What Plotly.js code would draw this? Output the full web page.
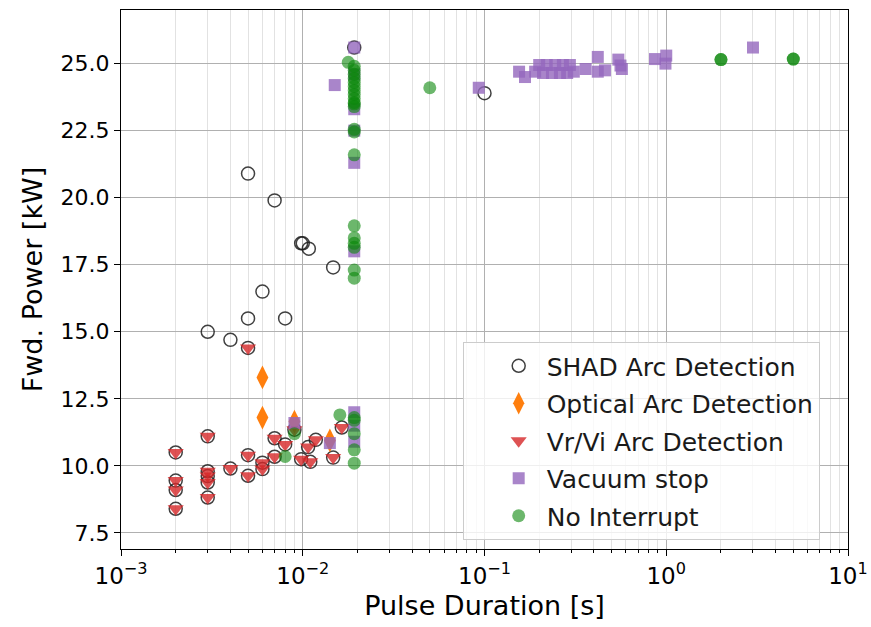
<!DOCTYPE html>
<html><head><meta charset="utf-8">
<script src="https://cdn.plot.ly/plotly-3.0.1.min.js"></script>
<style>html,body{margin:0;padding:0;background:#fff}#chart{width:871px;height:627px}</style>
</head><body><div id="chart"></div>
<script>
// SHAD Arc Detection (open circles)
const shadX = [0.005,0.007,0.0098,0.01,0.0108,0.0147,0.006,0.005,0.008,0.003,0.004,0.1,0.0192,
  0.002,0.002,0.002,0.002,0.003,0.003,0.003,0.003,0.003,0.004,0.005,0.005,0.005,0.006,0.006,
  0.007,0.007,0.008,0.009,0.0098,0.0107,0.011,0.0118,0.0147,0.0164];
const shadY = [20.9,19.9,18.3,18.3,18.1,17.4,16.5,15.5,15.5,15.0,14.7,23.9,25.6,
  10.5,9.45,9.1,8.4,11.1,9.8,9.62,9.38,8.82,9.9,14.4,10.4,9.63,10.12,9.88,
  11.03,10.34,10.8,11.35,10.25,10.7,10.15,10.97,10.31,11.43];

// Optical Arc Detection (diamonds)
const optX = [0.006,0.006,0.009,0.0141];
const optY = [13.3,11.8,11.65,10.95];

// Vr/Vi Arc Detection (triangles)
const vrviX = [0.002,0.002,0.002,0.002,0.003,0.003,0.003,0.003,0.003,0.004,0.005,0.005,0.005,0.006,0.006,
  0.007,0.007,0.008,0.009,0.0098,0.0107,0.011,0.0118,0.0147,0.0164];
const vrviY = [10.5,9.45,9.1,8.4,11.1,9.8,9.62,9.38,8.82,9.9,14.4,10.4,9.63,10.12,9.88,
  11.03,10.34,10.8,11.35,10.25,10.7,10.15,10.97,10.31,11.43];

// Vacuum stop (squares)
const vacX = [0.009,0.0141,0.015,0.0192,0.0192,0.0192,0.0192,0.0192,0.0192,0.0192,0.0192,0.0192,0.093,
  0.155,0.167,0.19,0.2,0.21,0.22,0.235,0.245,0.26,0.27,0.285,0.295,0.31,0.36,0.42,0.42,0.46,0.545,0.56,0.57,
  0.867,1.0,0.99,3.0];
const vacY = [11.6,10.85,24.2,25.6,24.6,23.3,22.5,21.3,18.0,12.0,11.5,10.9,24.1,
  24.7,24.5,24.7,24.95,24.65,24.95,24.65,24.95,24.65,24.95,24.65,24.95,24.7,24.8,25.25,24.7,24.75,25.15,24.93,24.8,
  25.17,25.3,25.0,25.6];

// No Interrupt (filled circles)
const noX = [0.0178,0.0192,0.0192,0.0192,0.0192,0.0192,0.0192,0.0192,0.0192,0.0192,0.0192,0.0192,0.0192,
  0.0192,0.0192,0.0192,0.0192,0.0192,0.0192,0.0192,0.0192,0.0192,
  0.016,0.0192,0.0192,0.0192,0.0192,0.0192,0.009,0.008,0.05,2.0,2.0,5.0,5.0];
const noY = [25.05,24.9,24.75,24.6,24.45,24.3,24.15,24.0,23.85,23.7,23.55,23.4,23.5,
  22.55,22.45,21.6,18.95,18.5,18.3,18.15,17.3,17.0,
  11.9,11.8,11.7,11.2,10.6,10.1,11.2,10.35,24.1,25.15,25.15,25.17,25.17];

const xTickVals = [0.001,0.01,0.1,1,10];
const xTickText = ['10<sup>−3</sup>','10<sup>−2</sup>','10<sup>−1</sup>','10<sup>0</sup>','10<sup>1</sup>'];
const yTickVals = [7.5,10.0,12.5,15.0,17.5,20.0,22.5,25.0];

const traces = [
  {x: shadX, y: shadY, name: 'SHAD Arc Detection', mode: 'markers', type: 'scatter', legendgroup: 'a',
   marker: {symbol: 'circle-open', size: 13, color: 'rgba(30,30,30,0.85)', line: {width: 1.5}}},
  {x: optX, y: optY, name: 'Optical Arc Detection', mode: 'markers', type: 'scatter', legendgroup: 'b',
   marker: {symbol: 'diamond-tall', size: 17, color: '#ff7f0e', line: {width: 0}}},
  {x: vrviX, y: vrviY, name: 'Vr/Vi Arc Detection', mode: 'markers', type: 'scatter', legendgroup: 'c',
   marker: {symbol: 'triangle-down', size: 14, color: '#d62728', opacity: 0.8, line: {width: 0}}},
  {x: vacX, y: vacY, name: 'Vacuum stop', mode: 'markers', type: 'scatter', legendgroup: 'd',
   marker: {symbol: 'square', size: 12, color: '#9467bd', opacity: 0.8, line: {width: 0}}},
  {x: noX, y: noY, name: 'No Interrupt', mode: 'markers', type: 'scatter', legendgroup: 'e',
   marker: {symbol: 'circle', size: 13, color: 'rgb(10,135,10)', opacity: 0.6, line: {width: 0}}}
];

const layout = {
  width: 871, height: 627,
  margin: {l: 121, r: 23, t: 10, b: 78},
  paper_bgcolor: '#fff', plot_bgcolor: '#fff',
  font: {family: 'DejaVu Sans', size: 22, color: '#000'},
  showlegend: true,
  legend: {x: 0.47, y: 0.384, xanchor: 'left', yanchor: 'top',
    bgcolor: 'rgba(255,255,255,0.8)', bordercolor: '#cccccc', borderwidth: 1,
    font: {family: 'DejaVu Sans', size: 25, color: '#1a1a1a'},
    tracegroupgap: 2, indentation: 27, itemwidth: 46},
  xaxis: {type: 'log', range: [-3, 1], tickmode: 'array', tickvals: xTickVals, ticktext: xTickText,
    showgrid: true, gridcolor: '#b0b0b0', gridwidth: 1,
    minor: {dtick: 'D1', showgrid: true, gridcolor: '#e2e2e2', gridwidth: 1, ticks: 'outside', ticklen: 3, tickcolor: '#000'},
    ticks: 'outside', ticklen: 6, tickcolor: '#000', showline: true, linecolor: '#000', linewidth: 1, mirror: true,
    zeroline: false, tickfont: {size: 23},
    title: {text: 'Pulse Duration [s]', font: {size: 27}, standoff: 8}},
  yaxis: {range: [6.9, 27.0], tickmode: 'array', tickvals: yTickVals, tickformat: '.1f',
    showgrid: true, gridcolor: '#b0b0b0', gridwidth: 1,
    ticks: 'outside', ticklen: 6, tickcolor: '#000', showline: true, linecolor: '#000', linewidth: 1, mirror: true,
    zeroline: false, tickfont: {size: 22},
    title: {text: 'Fwd. Power [kW]', font: {size: 27}, standoff: 10}}
};

Plotly.newPlot('chart', traces, layout, {displayModeBar: false, staticPlot: true});
</script></body></html>
